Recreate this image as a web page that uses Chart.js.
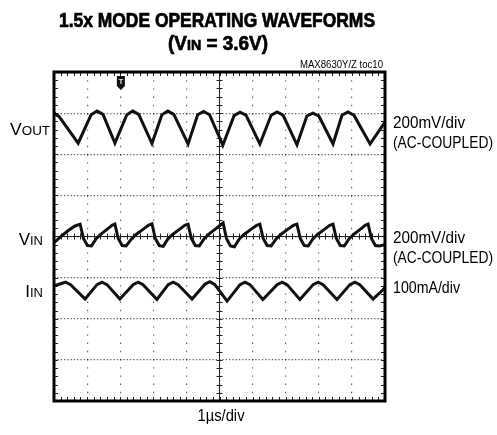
<!DOCTYPE html>
<html>
<head>
<meta charset="utf-8">
<script src="https://cdn.jsdelivr.net/npm/chart.js@4/dist/chart.umd.min.js"></script>
<style>
  html, body { margin: 0; padding: 0; background: #fff; }
  #wrap { width: 497px; height: 435px; position: relative; }
</style>
</head>
<body>
<div id="wrap"><canvas id="scope"></canvas></div>
<script>
// screen divisions: x 0..10 (1us/div), y -4..4 (centre line = 0)
const voutX = [0, 0.15, 0.73, 1.12, 1.30, 1.48, 1.84, 2.20, 2.38, 2.56, 2.96, 3.26, 3.44, 3.62,
  4.05, 4.34, 4.52, 4.70, 5.10, 5.44, 5.62, 5.80, 6.22, 6.56, 6.74, 6.92, 7.34, 7.64, 7.82, 8.00,
  8.43, 8.70, 8.88, 9.06, 9.55, 10];
const voutY = [3.00, 2.92, 2.27, 2.96, 3.05, 2.97, 2.27, 2.96, 3.05, 2.97, 2.26, 2.96, 3.05, 2.97,
  2.25, 2.96, 3.04, 2.96, 2.22, 2.94, 3.02, 2.95, 2.25, 2.95, 3.03, 2.95, 2.23, 2.93, 3.00, 2.93,
  2.25, 2.95, 3.03, 2.95, 2.25, 2.78];

const vinX = [0, 0.18, 0.42, 0.62, 0.79,
  0.89, 1.01, 1.13, 1.27, 1.41, 1.61, 1.75, 1.84,
  1.94, 2.06, 2.18, 2.34, 2.48, 2.70, 2.85, 2.96,
  3.06, 3.18, 3.30, 3.44, 3.58, 3.80, 3.95, 4.05,
  4.15, 4.27, 4.39, 4.53, 4.67, 4.89, 5.03, 5.11,
  5.21, 5.33, 5.45, 5.60, 5.74, 5.96, 6.12, 6.22,
  6.32, 6.44, 6.56, 6.71, 6.85, 7.07, 7.23, 7.34,
  7.44, 7.56, 7.68, 7.82, 7.96, 8.18, 8.33, 8.43,
  8.53, 8.65, 8.77, 8.91, 9.05, 9.26, 9.40, 9.49,
  9.59, 9.71, 9.83, 10];
const vinY = [-0.15, -0.02, 0.14, 0.25, 0.30,
  -0.05, -0.22, -0.23, -0.06, 0.05, 0.18, 0.27, 0.30,
  -0.05, -0.22, -0.23, -0.06, 0.05, 0.18, 0.27, 0.31,
  -0.05, -0.22, -0.24, -0.06, 0.05, 0.18, 0.27, 0.30,
  -0.05, -0.22, -0.23, -0.06, 0.05, 0.19, 0.28, 0.33,
  -0.05, -0.23, -0.25, -0.06, 0.05, 0.18, 0.27, 0.30,
  -0.05, -0.22, -0.23, -0.06, 0.05, 0.18, 0.27, 0.30,
  -0.05, -0.22, -0.23, -0.06, 0.05, 0.18, 0.27, 0.30,
  -0.05, -0.22, -0.23, -0.06, 0.05, 0.18, 0.27, 0.30,
  -0.05, -0.22, -0.23, -0.20];

const iinX = [0, 0.20, 0.35, 0.50, 0.94, 1.30, 1.45, 1.60, 1.99, 2.39, 2.54, 2.69, 3.11,
  3.45, 3.60, 3.75, 4.17, 4.56, 4.71, 4.86, 5.23, 5.62, 5.77, 5.92, 6.31, 6.74, 6.89, 7.04,
  7.43, 7.83, 7.98, 8.13, 8.55, 8.94, 9.09, 9.24, 9.64, 10];
const iinY = [-1.20, -1.15, -1.11, -1.17, -1.52, -1.17, -1.11, -1.17, -1.52, -1.17, -1.11, -1.17, -1.53,
  -1.17, -1.11, -1.17, -1.52, -1.16, -1.10, -1.17, -1.57, -1.17, -1.11, -1.17, -1.53, -1.17, -1.11, -1.17,
  -1.53, -1.17, -1.11, -1.17, -1.53, -1.17, -1.11, -1.17, -1.52, -1.25];

const triggerX = 2.02;

const FONT = '"Liberation Sans Narrow", "Liberation Sans", Arial, sans-serif';

function toPoints(xs, ys) {
  return xs.map((x, i) => ({ x: x, y: ys[i] }));
}

// draws a row of text pieces, squeezed/stretched to the given width
function drawRuns(ctx, runs, x, y, width, align, heavy) {
  ctx.save();
  let total = 0;
  const widths = runs.map(r => {
    ctx.font = r.font;
    const w = ctx.measureText(r.t).width;
    total += w;
    return w;
  });
  const sx = width ? width / total : 1;
  let x0 = x;
  if (align === 'right') x0 = x - total * sx;
  if (align === 'center') x0 = x - total * sx / 2;
  ctx.translate(x0, y);
  ctx.scale(sx, 1);
  ctx.fillStyle = '#000';
  ctx.strokeStyle = '#000';
  ctx.lineWidth = heavy || 0;
  ctx.textAlign = 'left';
  ctx.textBaseline = 'alphabetic';
  let cx = 0;
  runs.forEach((r, i) => {
    ctx.font = r.font;
    ctx.fillText(r.t, cx, 0);
    if (heavy) ctx.strokeText(r.t, cx, 0);
    cx += widths[i];
  });
  ctx.restore();
}

const graticule = {
  id: 'graticule',
  beforeDatasetsDraw(chart) {
    const { ctx, chartArea: a, scales: { x, y } } = chart;
    const xc = x.getPixelForValue(5);
    const yc = y.getPixelForValue(0);
    ctx.save();
    ctx.strokeStyle = '#222';
    ctx.lineWidth = 1;
    ctx.beginPath();
    ctx.moveTo(xc, a.top); ctx.lineTo(xc, a.bottom);
    ctx.moveTo(a.left, yc); ctx.lineTo(a.right, yc);
    for (let v = 0; v <= 10.001; v += 0.2) {
      const px = Math.round(x.getPixelForValue(v)) + 0.5;
      ctx.moveTo(px, yc - 3); ctx.lineTo(px, yc + 3);
      ctx.moveTo(px, a.top); ctx.lineTo(px, a.top + 4);
      ctx.moveTo(px, a.bottom); ctx.lineTo(px, a.bottom - 4);
    }
    for (let v = -4; v <= 4.001; v += 0.2) {
      const py = Math.round(y.getPixelForValue(v)) + 0.5;
      ctx.moveTo(xc - 3, py); ctx.lineTo(xc + 3, py);
      ctx.moveTo(a.left, py); ctx.lineTo(a.left + 4, py);
      ctx.moveTo(a.right, py); ctx.lineTo(a.right - 4, py);
    }
    ctx.stroke();
    ctx.restore();
  },
  afterDatasetsDraw(chart) {
    const { ctx, chartArea: a, scales: { x } } = chart;
    ctx.save();
    ctx.strokeStyle = '#000';
    ctx.lineWidth = 3;
    ctx.strokeRect(a.left, a.top, a.right - a.left, a.bottom - a.top);
    // trigger marker
    const tx = x.getPixelForValue(triggerX);
    const ty = a.top + 4;
    ctx.fillStyle = '#111';
    ctx.beginPath();
    ctx.moveTo(tx - 4, ty);
    ctx.lineTo(tx + 4, ty);
    ctx.lineTo(tx + 4, ty + 10);
    ctx.lineTo(tx, ty + 14);
    ctx.lineTo(tx - 4, ty + 10);
    ctx.closePath();
    ctx.fill();
    ctx.fillStyle = '#ddd';
    ctx.font = 'bold 8px ' + FONT;
    ctx.textAlign = 'center';
    ctx.textBaseline = 'middle';
    ctx.fillText('T', tx, ty + 6);
    ctx.restore();
  },
  afterDraw(chart) {
    const ctx = chart.ctx;
    const big = 'bold 20px ' + FONT;
    drawRuns(ctx, [{ t: '1.5x MODE OPERATING WAVEFORMS', font: big }], 217, 27, 316, 'center', 0.7);
    drawRuns(ctx, [
      { t: '(V', font: big },
      { t: 'IN', font: 'bold 15px ' + FONT },
      { t: ' = 3.6V)', font: big }
    ], 218, 50, 100, 'center', 0.7);
    drawRuns(ctx, [{ t: 'MAX8630Y/Z toc10', font: '10px ' + FONT }], 383, 68, 83, 'right');

    const lab = '17px ' + FONT;
    const sub = '13px ' + FONT;
    drawRuns(ctx, [{ t: 'V', font: lab }, { t: 'OUT', font: sub }], 50, 135, 40, 'right');
    drawRuns(ctx, [{ t: 'V', font: lab }, { t: 'IN', font: sub }], 43, 245, null, 'right');
    drawRuns(ctx, [{ t: 'I', font: lab }, { t: 'IN', font: sub }], 43, 297, null, 'right');

    drawRuns(ctx, [{ t: '200mV/div', font: lab }], 393, 128, 72, 'left');
    drawRuns(ctx, [{ t: '(AC-COUPLED)', font: lab }], 393, 148, 100, 'left');
    drawRuns(ctx, [{ t: '200mV/div', font: lab }], 393, 243, 72, 'left');
    drawRuns(ctx, [{ t: '(AC-COUPLED)', font: lab }], 393, 263, 100, 'left');
    drawRuns(ctx, [{ t: '100mA/div', font: lab }], 393, 293, 67, 'left');

    drawRuns(ctx, [{ t: '1\u00B5s/div', font: lab }], 221, 421, 47, 'center');
  }
};

const trace = {
  borderColor: '#111',
  borderWidth: 3,
  pointRadius: 0,
  fill: false,
  tension: 0
};

new Chart(document.getElementById('scope'), {
  type: 'line',
  data: {
    datasets: [
      Object.assign({ label: 'VOUT', data: toPoints(voutX, voutY) }, trace),
      Object.assign({ label: 'VIN', data: toPoints(vinX, vinY) }, trace),
      Object.assign({ label: 'IIN', data: toPoints(iinX, iinY) }, trace)
    ]
  },
  options: {
    responsive: true,
    maintainAspectRatio: false,
    animation: false,
    events: [],
    layout: { padding: { left: 54, top: 72, right: 112, bottom: 34 } },
    plugins: { legend: { display: false }, tooltip: { enabled: false } },
    scales: {
      x: {
        type: 'linear', min: 0, max: 10,
        ticks: { display: false, stepSize: 1 },
        grid: { color: 'rgba(0,0,0,0.6)', lineWidth: 1.2, drawTicks: false },
        border: { display: false, dash: [1.4, 6.8] }
      },
      y: {
        type: 'linear', min: -4, max: 4,
        ticks: { display: false, stepSize: 1 },
        grid: { color: 'rgba(0,0,0,0.6)', lineWidth: 1.2, drawTicks: false },
        border: { display: false, dash: [1.4, 1.9] }
      }
    }
  },
  plugins: [graticule]
});
</script>
</body>
</html>
